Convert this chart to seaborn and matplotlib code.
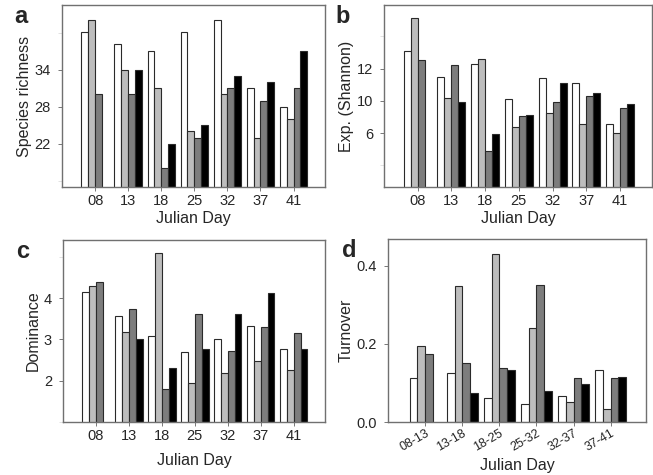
import numpy as np
import pandas as pd
import seaborn as sns
import matplotlib.pyplot as plt

days = ["08", "13", "18", "25", "32", "37", "41"]
pairs = ["08-13", "13-18", "18-25", "25-32", "32-37", "37-41"]
series = ["S1", "S2", "S3", "S4"]
colors = ["#ffffff", "#bdbdbd", "#7d7d7d", "#000000"]

# species richness
rich_s1 = [40.1, 38.2, 37.1, 40.1, 42.1, 31.0, 28.0]
rich_s2 = [42.1, 34.0, 31.0, 24.0, 30.0, 23.0, 26.0]
rich_s3 = [30.0, 30.0, 18.0, 23.0, 31.0, 29.0, 31.0]
rich_s4 = [np.nan, 34.0, 22.0, 25.0, 33.0, 32.0, 37.1]

# exp(shannon)
shan_s1 = [13.66, 11.23, 12.43, 9.2, 11.14, 10.68, 6.89]
shan_s2 = [16.68, 9.29, 12.89, 6.58, 7.85, 6.89, 5.97]
shan_s3 = [12.83, 12.31, 4.37, 7.6, 8.89, 9.45, 8.37]
shan_s4 = [np.nan, 8.92, 5.91, 7.72, 10.68, 9.72, 8.74]

# dominance
dom_s1 = [4.14, 3.57, 3.08, 2.69, 3.0, 3.32, 2.76]
dom_s2 = [4.30, 3.18, 5.09, 1.95, 2.18, 2.49, 2.26]
dom_s3 = [4.39, 3.73, 1.81, 3.62, 2.73, 3.30, 3.15]
dom_s4 = [np.nan, 3.0, 2.32, 2.76, 3.62, 4.12, 2.77]

# turnover
turn_s1 = [0.112, 0.126, 0.062, 0.046, 0.067, 0.132]
turn_s2 = [0.195, 0.349, 0.429, 0.241, 0.052, 0.032]
turn_s3 = [0.173, 0.150, 0.139, 0.350, 0.113, 0.113]
turn_s4 = [np.nan, 0.075, 0.132, 0.079, 0.096, 0.116]


def longform(cats, vals):
    rows = []
    for s, v in zip(series, vals):
        for c, x in zip(cats, v):
            rows.append({"day": c, "series": s, "value": x})
    return pd.DataFrame(rows)


sns.set_style("ticks")
plt.rcParams['font.family'] = ['Liberation Sans', 'DejaVu Sans']
plt.rcParams['font.size'] = 10.5

fig = plt.figure(figsize=(6.53, 4.75), dpi=100)
W, H = 653.0, 475.0
def add_ax(l, r, t, b):
    return fig.add_axes([l / W, 1 - b / H, (r - l) / W, (b - t) / H])

axa = add_ax(62, 325, 5, 187)
axb = add_ax(384, 652, 5, 187)
axc = add_ax(63, 325, 240, 422)
axd = add_ax(388, 646, 239, 422)

panels = [
    (axa, days, [rich_s1, rich_s2, rich_s3, rich_s4], "Species richness", (15, 44.5), [22, 28, 34], ["22", "28", "34"], [16, 40], "a"),
    (axb, days, [shan_s1, shan_s2, shan_s3, shan_s4], "Exp. (Shannon)", (1.0, 17.9), [6, 9, 12], ["6", "10", "12"], [3, 15], "b"),
    (axc, days, [dom_s1, dom_s2, dom_s3, dom_s4], "Dominance", (1.0, 5.41), [2, 3, 4], ["2", "3", "4"], [1, 5], "c"),
    (axd, pairs, [turn_s1, turn_s2, turn_s3, turn_s4], "Turnover", (0.0, 0.468), [0.0, 0.2, 0.4], ["0.0", "0.2", "0.4"], [], "d"),
]

for ax, cats, vals, ylab, ylim, ticks, tlabels, minor, letter in panels:
    df = longform(cats, vals)
    sns.barplot(data=df, x="day", y="value", hue="series", order=cats,
                hue_order=series, palette=colors, width=0.83, ax=ax,
                edgecolor="#2a2a2a", linewidth=0.8, legend=False, saturation=1)
    ax.set_ylim(*ylim)
    ax.set_xlim(-1.0, len(cats) - 0.05)
    ax.set_yticks(ticks)
    ax.set_yticklabels(tlabels)
    ax.set_yticks(minor, minor=True)
    ax.tick_params(axis="y", which="minor", length=3, color="#dddddd")
    ax.tick_params(length=3, width=0.7, color="#777777", labelsize=10.5)
    ax.tick_params(axis="y", pad=5)
    ax.tick_params(axis="x", pad=2)
    ax.set_ylabel(ylab, fontsize=11.5, labelpad=2)
    ax.set_xlabel("Julian Day", fontsize=11.5, labelpad=2)
    for sp in ax.spines.values():
        sp.set_color("#707070")
        sp.set_linewidth(1.0)
    ax.text(-0.18, 1.0, letter, transform=ax.transAxes,
            fontsize=17, fontweight="bold", va="top", ha="left")

axc.set_xlabel("Julian Day", fontsize=11.5, labelpad=7)

for lab in axd.get_xticklabels():
    lab.set_rotation(30)
    lab.set_ha("right")
    lab.set_rotation_mode("anchor")
axd.tick_params(axis="x", labelsize=9, pad=1)
axd.set_xlabel("Julian Day", fontsize=11.5, labelpad=3)

fig.savefig("out.png", dpi=100)
